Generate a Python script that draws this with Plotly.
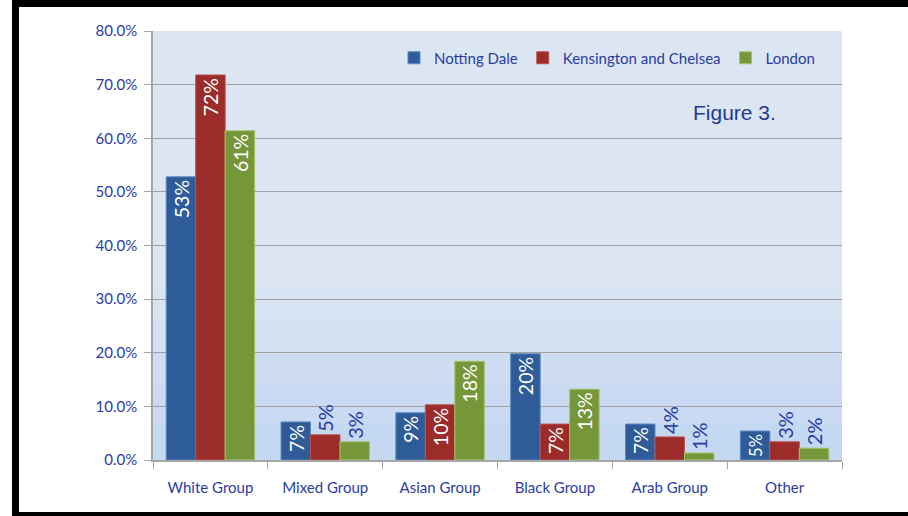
import plotly.graph_objects as go

categories = ["White Group", "Mixed Group", "Asian Group", "Black Group", "Arab Group", "Other"]
notting_dale = [0.528, 0.071, 0.088, 0.198, 0.067, 0.054]
kensington = [0.718, 0.047, 0.103, 0.067, 0.043, 0.034]
london = [0.614, 0.034, 0.184, 0.132, 0.013, 0.022]
nd_pos = ["inside", "inside", "inside", "inside", "inside", "inside"]
kc_pos = ["inside", "outside", "inside", "inside", "outside", "outside"]
ld_pos = ["inside", "outside", "inside", "inside", "outside", "outside"]
y_ticks = [0, 0.1, 0.2, 0.3, 0.4, 0.5, 0.6, 0.7, 0.8]

W, H = 908, 516
L, R, T, B = 153, 66, 31, 56
PW, PH = W - L - R, H - T - B

def px(x):
    return (x - L) / PW

def py(y):
    return (H - B - y) / PH

FONT = "Lato, 'Open Sans', sans-serif"
TXT_BLUE = "#2A3BA8"

fig = go.Figure()
series = [
    ("Notting Dale", notting_dale, nd_pos, "#2D5C98", "#5B87C0"),
    ("Kensington and Chelsea", kensington, kc_pos, "#9C2C2A", "#B85450"),
    ("London", london, ld_pos, "#76963A", "#A3C466"),
]
for name, vals, pos, col, edge in series:
    fig.add_trace(go.Bar(
        name=name, x=categories, y=vals,
        marker=dict(color=col, line=dict(color=edge, width=1)),
        texttemplate="%{y:.0%}", textposition=pos, textangle=-90,
        insidetextanchor="end",
        insidetextfont=dict(color="white", size=20, family=FONT),
        outsidetextfont=dict(color=TXT_BLUE, size=20, family=FONT),
        cliponaxis=False,
    ))

shapes = []
# background gradient toward the bottom of the plot area
grad = [(0.32, 0.26, "#D8E4F3"), (0.26, 0.20, "#D3E1F3"), (0.20, 0.14, "#CEDDF2"),
        (0.14, 0.07, "#C9DAF2"), (0.07, 0.0, "#C5D8F1")]
for y0, y1, c in grad:
    shapes.append(dict(type="rect", xref="paper", yref="y", x0=0, x1=1, y0=y1, y1=y0,
                       fillcolor=c, line=dict(width=0), layer="below"))
# black frame
for x0, x1, y0, y1 in [(12, 908, 0, 7), (12, 19, 0, 516), (12, 908, 512, 516)]:
    shapes.append(dict(type="rect", xref="paper", yref="paper",
                       x0=px(x0), x1=px(x1), y0=py(y1), y1=py(y0),
                       fillcolor="black", line=dict(width=0), layer="above"))

fig.update_layout(
    width=W, height=H,
    margin=dict(l=L, r=R, t=T, b=B),
    paper_bgcolor="white", plot_bgcolor="#DCE6F2",
    barmode="group", bargap=0.23, bargroupgap=0,
    font=dict(family=FONT, color=TXT_BLUE, size=15),
    showlegend=True,
    legend=dict(orientation="h", x=px(820), xanchor="right", y=py(58), yanchor="middle",
                bgcolor="rgba(0,0,0,0)", font=dict(size=15, color=TXT_BLUE, family=FONT),
                itemwidth=30, traceorder="normal"),
    shapes=shapes,
    annotations=[dict(text="Figure 3.", xref="paper", yref="paper", x=px(734), y=py(112),
                      xanchor="center", yanchor="middle", showarrow=False,
                      font=dict(family="Liberation Sans, Arial, sans-serif", size=21, color="#1F3A93"))],
    xaxis=dict(showline=True, linecolor="#A6A6A6", linewidth=1.5, ticks="outside",
               tickson="boundaries", ticklen=7, tickcolor="#A6A6A6",
               tickfont=dict(size=15, color=TXT_BLUE), ticklabelstandoff=13),
    yaxis=dict(range=[0, 0.8], tickvals=y_ticks, tickformat=".1%", showline=True,
               linecolor="#A6A6A6", linewidth=1.5, ticks="outside", ticklen=7,
               tickcolor="#A6A6A6", gridcolor="#A0A0A0", gridwidth=1.2,
               zeroline=False, tickfont=dict(size=15, color=TXT_BLUE), ticklabelstandoff=4),
)

fig.write_html("out.html", config={"displayModeBar": False},
               post_script="document.body.style.margin='0';")
